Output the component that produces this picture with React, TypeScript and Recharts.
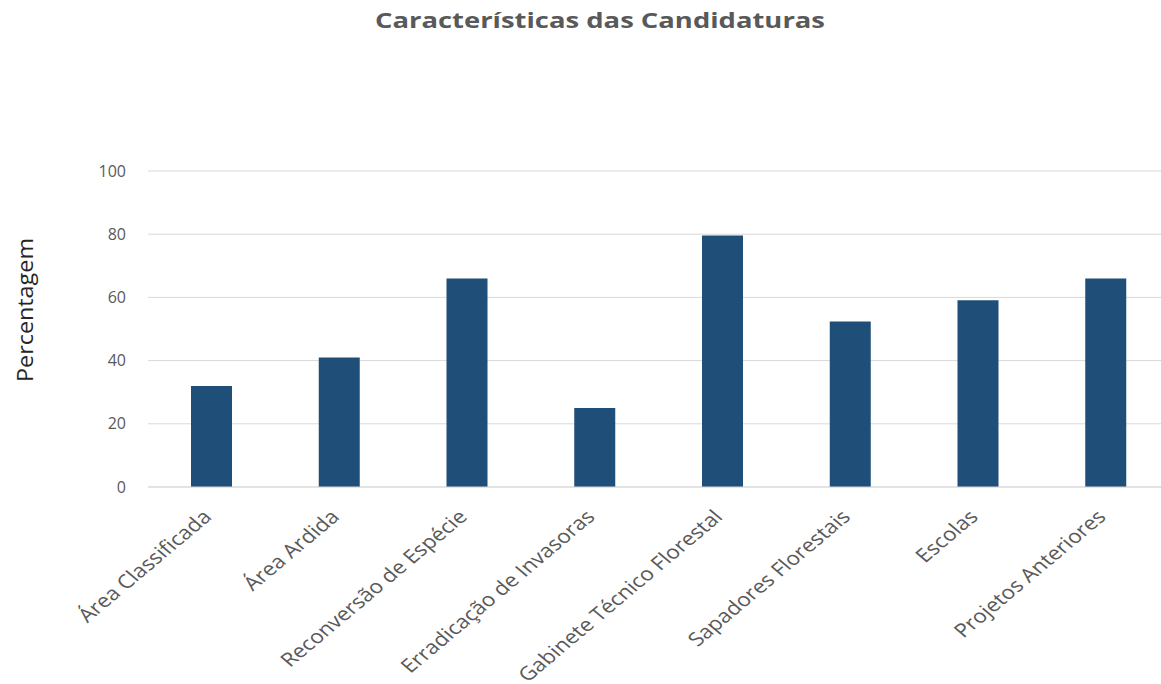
import { BarChart, Bar, XAxis, YAxis, CartesianGrid } from "recharts";

const categories = [
    "Área Classificada",
    "Área Ardida",
    "Reconversão de Espécie",
    "Erradicação de Invasoras",
    "Gabinete Técnico Florestal",
    "Sapadores Florestais",
    "Escolas",
    "Projetos Anteriores",
];

const percentages = [32, 41, 66, 25, 79.6, 52.4, 59.1, 66];

const yTicks = [0, 20, 40, 60, 80, 100];

const data = categories.map((name, i) => ({ name, value: percentages[i] }));

const FONT = "'Open Sans', 'DejaVu Sans', sans-serif";

// the source image is a bit wider than tall, so labels are stretched sideways
function CategoryTick(props: any) {
    const { x, y, payload } = props;
    return (
        <g transform={`translate(${x + 1},${y + 23})`}>
            <text
                x={0}
                y={0}
                textAnchor="end"
                transform="scale(1.19,1) rotate(-45)"
                fill="#595959"
                fontSize={19}
                fontFamily={FONT}
            >
                {payload.value}
            </text>
        </g>
    );
}

export default function App() {
    return (
        <div
            style={{
                position: "fixed",
                left: 0,
                top: 0,
                width: 1161,
                height: 684,
                overflow: "hidden",
                background: "#ffffff",
            }}
        >
            <BarChart
                width={1180}
                height={684}
                data={data}
                margin={{ top: 171, right: 10, bottom: 7, left: 0 }}
                barCategoryGap={0}
            >
                <CartesianGrid vertical={false} stroke="#d9d9d9" />
                <XAxis
                    dataKey="name"
                    height={190}
                    interval={0}
                    tickLine={false}
                    axisLine={{ stroke: "#d9d9d9" }}
                    tick={<CategoryTick />}
                />
                <YAxis
                    width={148}
                    domain={[0, 100]}
                    ticks={yTicks}
                    axisLine={false}
                    tickLine={false}
                    tickMargin={16}
                    tick={{ fill: "#595959", fontSize: 16, fontFamily: FONT }}
                />
                <Bar dataKey="value" fill="#1F4E79" barSize={41} isAnimationActive={false} />
            </BarChart>

            <svg
                width={1161}
                height={684}
                style={{ position: "absolute", left: 0, top: 0, pointerEvents: "none" }}
            >
                <text
                    x={600}
                    y={28}
                    textAnchor="middle"
                    fill="#595959"
                    fontSize={21}
                    fontWeight="bold"
                    fontFamily={FONT}
                    textLength={450}
                    lengthAdjust="spacingAndGlyphs"
                >
                    Características das Candidaturas
                </text>
                <text
                    x={0}
                    y={0}
                    transform="translate(33,310) rotate(-90)"
                    textAnchor="middle"
                    fill="#262626"
                    fontSize={22}
                    fontFamily={FONT}
                    textLength={144}
                    lengthAdjust="spacingAndGlyphs"
                >
                    Percentagem
                </text>
            </svg>
        </div>
    );
}
